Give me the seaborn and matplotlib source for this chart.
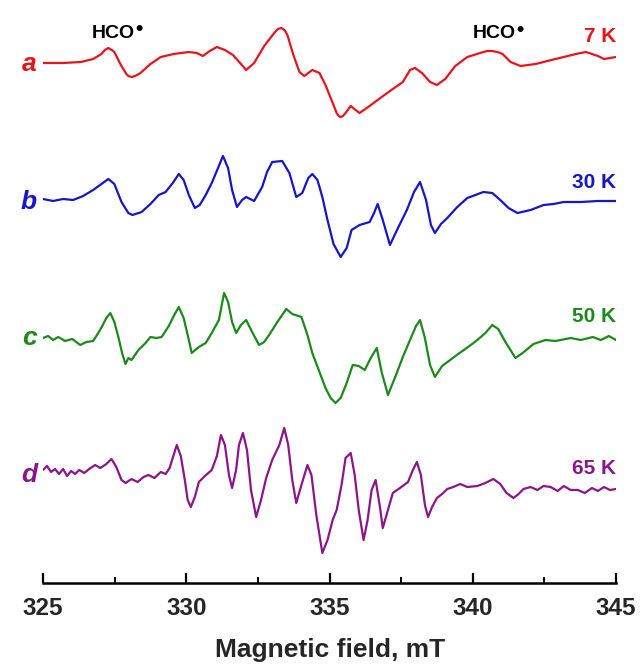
import numpy as np
import pandas as pd
import matplotlib
matplotlib.use("Agg")
import matplotlib.pyplot as plt
import seaborn as sns

# ---------------- data ----------------
field_a = [325.00, 325.70, 326.33, 326.75, 327.04, 327.16, 327.28, 327.40, 327.49, 327.70, 327.91, 327.98,
           328.09, 328.22, 328.40, 328.75,
           329.11, 329.56, 330.09, 330.37, 330.58, 330.82, 331.07, 331.35, 331.63, 331.88, 332.09, 332.37,
           332.72, 333.07, 333.20, 333.32, 333.43, 333.53, 333.74, 333.95, 334.12, 334.40, 334.65, 334.86,
           335.07, 335.25, 335.32, 335.39, 335.47, 335.56, 335.74, 335.91, 336.05, 336.40, 336.82, 337.21,
           337.56, 337.81, 337.98, 338.23, 338.51, 338.75, 339.04, 339.39, 339.81, 340.26, 340.50, 340.68,
           340.86, 341.04, 341.32, 341.67, 342.19, 342.89, 343.60, 343.95, 344.37, 344.58, 345.00]
signal_a = [-1, -1, 0, 3, 8, 12, 14, 12, 10, -2, -12, -14,
            -15, -14, -11, -2,
            5, 8, 10, 9, 6, 11, 15, 12, 7, -1, -8, -1,
            16, 29, 33, 34, 32, 27, 7, -10, -14, -8, -11, -23,
            -38, -51, -54, -55, -54, -51, -44, -48, -51, -44, -35, -27,
            -20, -8, -6, -11, -20, -23, -17, -4, 5, 9, 11, 11,
            10, 8, 0, -4, -2, 3, 8, 10, 6, 3, 5]

field_b = [325.00, 325.35, 325.70, 326.05, 326.40, 326.75, 327.04, 327.28, 327.49, 327.74, 327.98, 328.12,
           328.44, 328.75, 329.04, 329.28, 329.53, 329.74, 329.91, 330.09, 330.30, 330.47, 330.68, 330.89,
           331.11, 331.28, 331.46, 331.60, 331.77, 331.95, 332.09, 332.37, 332.65, 332.82, 333.00, 333.35,
           333.60, 333.84, 334.05, 334.26, 334.40, 334.58, 334.75, 334.93, 335.14, 335.39, 335.60, 335.77,
           336.05, 336.40, 336.54, 336.68, 336.86, 337.11, 337.39, 337.70, 337.95, 338.16, 338.37, 338.54,
           338.68, 338.89, 339.11, 339.46, 339.81, 340.37, 340.68, 340.96, 341.25, 341.56, 342.02, 342.47,
           342.82, 343.18, 343.77, 344.37, 345.00]
signal_b = [0, -2, 0, -1, 3, 9, 15, 20, 15, -3, -14, -16,
            -13, -5, 4, 7, 16, 25, 19, 4, -9, -6, 4, 16,
            31, 43, 31, 9, -8, -1, 2, -2, 12, 27, 37, 38,
            26, 2, 6, 21, 25, 19, 2, -21, -45, -58, -49, -31,
            -26, -23, -15, -5, -21, -46, -29, -11, 7, 17, -1, -26,
            -34, -25, -19, -8, 1, 7, 6, -1, -9, -14, -11, -6,
            -5, -3, -3, -2, -2]

field_c = [325.00, 325.18, 325.35, 325.53, 325.77, 326.02, 326.30, 326.51, 326.75, 326.93, 327.07, 327.21,
           327.35, 327.49, 327.63, 327.77, 327.88, 327.98, 328.09, 328.33, 328.58, 328.75, 328.96, 329.14,
           329.39, 329.60, 329.74, 329.91, 330.09, 330.19, 330.44, 330.68, 330.89, 331.14, 331.32, 331.46,
           331.60, 331.74, 331.91, 332.09, 332.30, 332.54, 332.72, 332.89, 333.18, 333.49, 333.70, 334.02,
           334.23, 334.40, 334.65, 334.86, 335.04, 335.21, 335.39, 335.60, 335.81, 336.02, 336.23, 336.44,
           336.65, 336.82, 337.04, 337.28, 337.56, 337.84, 338.02, 338.16, 338.33, 338.51, 338.68, 338.93,
           339.21, 339.49, 339.74, 339.98, 340.16, 340.44, 340.68, 340.89, 341.14, 341.49, 341.74, 342.12,
           342.54, 342.89, 343.42, 343.77, 344.19, 344.47, 344.75, 345.00]
signal_c = [0, 2, -2, 1, -3, -1, -7, -4, -3, 5, 12, 20,
            25, 16, 1, -16, -26, -20, -22, -12, -5, 1, 0, 1,
            12, 24, 31, 20, -2, -15, -9, -5, 5, 18, 45, 36,
            16, 5, 13, 18, 6, -7, -4, 3, 16, 29, 24, 21,
            3, -15, -34, -50, -60, -65, -60, -45, -27, -28, -32, -20,
            -10, -34, -57, -40, -19, 0, 12, 18, 0, -27, -39, -28,
            -22, -16, -11, -6, -2, 5, 13, 9, -4, -20, -15, -6,
            -2, -3, 0, -2, 1, -2, 2, -2]

field_d = [325.00, 325.14, 325.28, 325.42, 325.56, 325.70, 325.84, 325.98, 326.12, 326.26, 326.44, 326.61,
           326.82, 327.00, 327.21, 327.39, 327.56, 327.74, 327.88, 328.09, 328.30, 328.51, 328.68, 328.89,
           329.11, 329.28, 329.42, 329.56, 329.67, 329.81, 329.95, 330.05, 330.16, 330.30, 330.44, 330.65,
           330.89, 331.07, 331.21, 331.35, 331.49, 331.60, 331.74, 331.84, 331.98, 332.12, 332.26, 332.44,
           332.61, 332.79, 333.00, 333.25, 333.42, 333.56, 333.70, 333.84, 334.02, 334.23, 334.37, 334.54,
           334.75, 334.93, 335.11, 335.25, 335.42, 335.56, 335.74, 335.88, 336.02, 336.19, 336.33, 336.47,
           336.61, 336.75, 336.86, 337.04, 337.21, 337.46, 337.74, 337.91, 338.05, 338.19, 338.33, 338.44,
           338.58, 338.75, 338.93, 339.11, 339.32, 339.56, 339.81, 340.16, 340.44, 340.72, 340.96, 341.18,
           341.42, 341.60, 341.77, 342.02, 342.26, 342.47, 342.72, 342.96, 343.18, 343.42, 343.67, 343.91,
           344.16, 344.37, 344.58, 344.79, 345.00]
signal_d = [0, 4, -2, 1, -4, 1, -6, -1, -4, 0, -3, 1,
            5, 2, 6, 11, 3, -10, -13, -9, -12, -7, -5, -8,
            -2, -4, 2, 15, 25, 14, -10, -30, -37, -27, -12, -6,
            0, 14, 35, 25, -5, -18, 0, 25, 37, 20, -20, -47,
            -30, -8, 10, 25, 42, 25, -10, -33, -15, 5, -5, -45,
            -83, -70, -50, -40, -15, 12, 17, -5, -40, -70, -50, -20,
            -10, -35, -58, -40, -23, -18, -12, 0, 8, -5, -35, -47,
            -37, -28, -24, -19, -17, -14, -17, -16, -13, -9, -14, -23,
            -28, -24, -19, -17, -20, -16, -17, -21, -16, -20, -20, -23,
            -18, -21, -17, -20, -19]

trace_names = ["a", "b", "c", "d"]
temperatures = ["7 K", "30 K", "50 K", "65 K"]
tick_values = [325, 330, 335, 340, 345]

# ---------------- layout / style ----------------
colors = {"a": "#e8141c", "b": "#1616c8", "c": "#1b8a1b", "d": "#8a168a"}
offsets = {"a": -62, "b": -199, "c": -338, "d": -470}

frames = []
for name, fx, sy in zip(trace_names,
                        [field_a, field_b, field_c, field_d],
                        [signal_a, signal_b, signal_c, signal_d]):
    frames.append(pd.DataFrame({"field": fx,
                                "y": np.asarray(sy, float) + offsets[name],
                                "trace": name}))
df = pd.concat(frames, ignore_index=True)

sns.set_style("white")
plt.rcParams["font.family"] = ["Liberation Sans", "DejaVu Sans"]
plt.rcParams["font.weight"] = "bold"

W, H = 642, 668
fig = plt.figure(figsize=(W / 100, H / 100), dpi=100)
ax_left, ax_right, ax_top, ax_bot = 43, 616, 0, 583
ax = fig.add_axes([ax_left / W, 1 - ax_bot / H, (ax_right - ax_left) / W, (ax_bot - ax_top) / H])

sns.lineplot(data=df, x="field", y="y", hue="trace", palette=colors,
             estimator=None, sort=False, linewidth=1.6, legend=False, ax=ax)
for ln in ax.lines:
    ln.set_solid_joinstyle("round")

ax.set_xlim(325, 345)
ax.set_ylim(-ax_bot, 0)
for s in ["left", "right", "top"]:
    ax.spines[s].set_visible(False)
ax.spines["bottom"].set_linewidth(1.8)
ax.spines["bottom"].set_color("black")
ax.set_yticks([])
ax.set_ylabel("")
ax.set_xticks(tick_values)
ax.set_xticklabels([str(t) for t in tick_values], fontsize=17.5, fontweight="bold")
ax.set_xticks(np.arange(327.5, 345, 5), minor=True)
ax.tick_params(axis="x", which="both", bottom=True, top=False)
ax.tick_params(axis="x", which="major", direction="in", length=7.5, width=1.6, pad=10, color="black")
ax.tick_params(axis="x", which="minor", direction="in", length=4, width=1.4, color="black")
ax.set_xlabel("")
fig.text(330 / W, 1 - 657 / H, "Magnetic field, mT", fontsize=19, fontweight="bold",
         ha="center", va="baseline")


def px2field(px):
    return 325 + (px - ax_left) / ((ax_right - ax_left) / 20)


label_baselines = {"a": 71, "b": 209, "c": 345, "d": 482}
for name in trace_names:
    ax.text(px2field(29), -label_baselines[name], name, color=colors[name], fontsize=19,
            fontweight="bold", style="italic", ha="center", va="baseline", clip_on=False)

temp_y = {"a": 37, "b": 183, "c": 317, "d": 468}
for name, t in zip(trace_names, temperatures):
    ax.text(px2field(616), -temp_y[name], t, color=colors[name], fontsize=15,
            fontweight="bold", ha="right", va="center", clip_on=False)

for xpx, ypx in [(92, 33), (473, 34)]:
    ax.text(px2field(xpx), -ypx, "HCO", color="black", fontsize=14,
            fontweight="bold", ha="left", va="center", clip_on=False)
    ax.text(px2field(xpx + 47), -(ypx + 2), "\u2022", color="black", fontsize=15,
            fontweight="bold", ha="center", va="baseline", clip_on=False)

fig.savefig("out.png", dpi=100, facecolor="white")
